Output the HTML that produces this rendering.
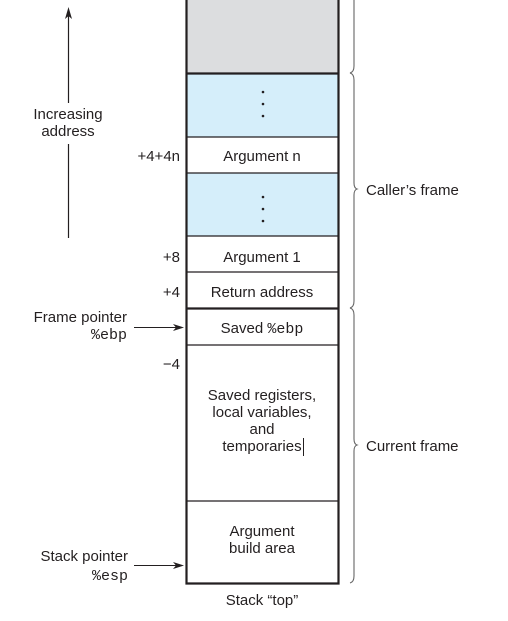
<!DOCTYPE html>
<html><head><meta charset="utf-8"><style>
html,body{margin:0;padding:0;background:#fff;}
svg{display:block;}
text{font-family:"Liberation Sans",sans-serif;font-size:15px;fill:#231f20;}
.m{font-family:"Liberation Mono",monospace;font-size:15px;}
</style></head><body>
<svg width="508" height="621" viewBox="0 0 508 621" xmlns="http://www.w3.org/2000/svg">
<rect x="186" y="0" width="153" height="73" fill="#dcdddf"/>
<rect x="186" y="74" width="153" height="63" fill="#d5eefa"/>
<rect x="186" y="173" width="153" height="63" fill="#d5eefa"/>
<g stroke="#231f20" stroke-width="1.2">
<line x1="186" y1="137" x2="339" y2="137"/>
<line x1="186" y1="173" x2="339" y2="173"/>
<line x1="186" y1="236" x2="339" y2="236"/>
<line x1="186" y1="272" x2="339" y2="272"/>
<line x1="186" y1="345" x2="339" y2="345"/>
<line x1="186" y1="501" x2="339" y2="501"/>
</g>
<g stroke="#231f20" stroke-width="2.2" fill="none">
<line x1="186" y1="73.5" x2="339" y2="73.5"/>
<line x1="186" y1="308.5" x2="339" y2="308.5"/>
<path d="M186.5 0 V583.5 H338.5 V0"/>
</g>
<g fill="#231f20">
<circle cx="263" cy="92" r="1.3"/><circle cx="263" cy="104" r="1.3"/><circle cx="263" cy="116" r="1.3"/>
<circle cx="263" cy="197" r="1.3"/><circle cx="263" cy="209" r="1.3"/><circle cx="263" cy="221" r="1.3"/>
</g>
<g stroke="#666" stroke-width="1.1" fill="none">
<path d="M354 0 V66 Q354 72 350 73 Q354 74 354 80 V183 Q354 188 357 189 Q354 190 354 195 V301 Q354 307 350 308 Q354 309 354 315 V439 Q354 444 357 445 Q354 446 354 451 V576 Q354 582 350 583"/>
</g>
<line x1="68.5" y1="14" x2="68.5" y2="103" stroke="#231f20" stroke-width="1.2"/>
<line x1="68.5" y1="144" x2="68.5" y2="238" stroke="#231f20" stroke-width="1.2"/>
<path d="M68.5 7 L65 19 L68.5 16 L72 19 Z" fill="#231f20"/>
<line x1="134" y1="327.5" x2="180" y2="327.5" stroke="#231f20" stroke-width="1.1"/>
<path d="M184 327.5 L173 324 L176 327.5 L173 331 Z" fill="#231f20"/>
<line x1="134" y1="565.5" x2="180" y2="565.5" stroke="#231f20" stroke-width="1.1"/>
<path d="M184 565.5 L173 562 L176 565.5 L173 569 Z" fill="#231f20"/>
<line x1="303.5" y1="438" x2="303.5" y2="456" stroke="#231f20" stroke-width="1"/>
<g text-anchor="middle">
<text x="68" y="119">Increasing</text>
<text x="68" y="136">address</text>
<text x="262" y="161">Argument n</text>
<text x="262" y="262">Argument 1</text>
<text x="262" y="297">Return address</text>
<text x="262" y="333">Saved <tspan class="m">%ebp</tspan></text>
<text x="262" y="400">Saved registers,</text>
<text x="262" y="417">local variables,</text>
<text x="262" y="434">and</text>
<text x="262" y="451">temporaries</text>
<text x="262" y="536">Argument</text>
<text x="262" y="553">build area</text>
<text x="262" y="605">Stack “top”</text>
</g>
<g text-anchor="end">
<text x="180" y="161">+4+4n</text>
<text x="180" y="262">+8</text>
<text x="180" y="297">+4</text>
<text x="180" y="369">−4</text>
<text x="127" y="322">Frame pointer</text>
<text x="127" y="339" class="m">%ebp</text>
<text x="128" y="561">Stack pointer</text>
<text x="128" y="580" class="m">%esp</text>
</g>
<text x="366" y="195">Caller’s frame</text>
<text x="366" y="451">Current  frame</text>
</svg>
</body></html>
